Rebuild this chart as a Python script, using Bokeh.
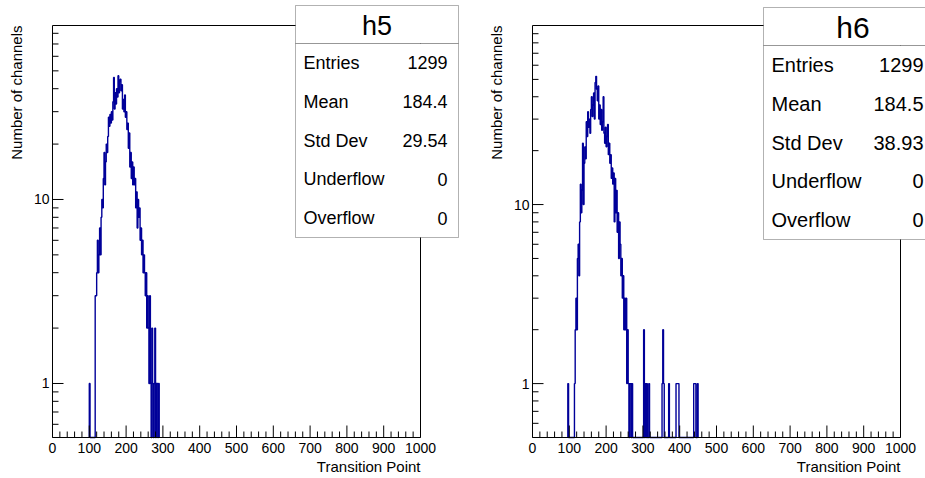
import math
import numpy as np
from bokeh.plotting import figure
from bokeh.layouts import row
from bokeh.models import Label, BoxAnnotation, Range1d
from bokeh.core.properties import value
from bokeh.embed import file_html
from bokeh.resources import INLINE

# ---------------- data ----------------
BIN_WIDTH = 2

h5_start = 100
h5_counts = [1, 0, 0, 0, 0, 0, 0, 0, 3, 3, 4, 6, 4, 5, 7, 5, 8, 10, 9, 13,
             18, 12, 16, 20, 18, 22, 28, 25, 29, 26, 30, 27, 34, 46, 31, 38, 33, 40, 36, 47,
             38, 44, 45, 39, 42, 31, 35, 30, 37, 28, 30, 24, 26, 19, 23, 15, 18, 13, 16, 12,
             15, 12, 13, 9, 11, 7, 10, 8, 9, 6, 7, 5, 6, 4, 5, 4, 3, 4, 2, 3,
             2, 1, 3, 1, 0, 2, 1, 0, 1, 2, 0, 1, 1, 0, 1]

h6_start = 96
h6_counts = [1, 0, 0, 0, 0, 0, 0, 0, 0, 1, 2, 3, 2, 5, 6, 4, 8, 13, 9, 12,
             22, 10, 17, 21, 18, 29, 24, 33, 27, 30, 25, 34, 40, 31, 36, 42, 30, 48, 52, 44,
             38, 46, 30, 36, 28, 34, 26, 29, 40, 25, 22, 27, 21, 24, 28, 19, 22, 17, 19, 14,
             16, 13, 15, 8, 14, 9, 12, 7, 9, 5, 8, 6, 4, 5, 3, 4, 2, 3, 2, 3,
             1, 2, 1, 0, 1, 1, 0, 1]
h6_tail_edges = [302, 306, 310, 316, 352, 354, 356, 370, 390, 392, 394, 396, 438, 440, 442, 448]
h6_tail_counts = [2, 1, 1, 1, 1, 2, 1, 1, 1, 1, 1, 1, 1, 1, 1, 1]

x_ticks = list(range(0, 1001, 100))
x_tick_labels = [str(v) for v in x_ticks]
x_minor = [v for v in range(0, 1001, 20) if v % 100]
y_ticks = [1, 10]
y_tick_labels = ["1", "10"]
y_minor = [0.5, 0.6, 0.7, 0.8, 0.9, 2, 3, 4, 5, 6, 7, 8, 9, 20, 30, 40, 50, 60, 70, 80, 90]

stat_names = ["Entries", "Mean", "Std Dev", "Underflow", "Overflow"]
h5_stats = ["1299", "184.4", "29.54", "0", "0"]
h6_stats = ["1299", "184.5", "38.93", "0", "0"]

x_title = "Transition Point"
y_title = "Number of channels"

# ---------------- style / layout ----------------
FONT = "Liberation Sans"
HIST_COLOR = "#000099"
H = 478
FR_TOP, FR_BOT = 25, 437


def dense_counts(start, counts, extra_edges=(), extra_counts=()):
    edges = [start + i * BIN_WIDTH for i in range(len(counts))] + list(extra_edges)
    vals = list(counts) + list(extra_counts)
    first = min(edges)
    last = max(edges)
    n = int(round((last - first) / BIN_WIDTH)) + 1
    dense = np.zeros(n)
    for e, c in zip(edges, vals):
        dense[int(round((e - first) / BIN_WIDTH))] += c
    return first, dense


def step_path(first, dense, floor):
    xs = [first]
    ys = [floor]
    for i, c in enumerate(dense):
        lo = first + i * BIN_WIDTH
        hi = lo + BIN_WIDTH
        v = c if c > 0 else floor
        xs += [lo, hi]
        ys += [v, v]
    xs.append(first + len(dense) * BIN_WIDTH)
    ys.append(floor)
    return xs, ys


def make_panel(name, first, dense, stats, y_lo, y_hi, fig_left, fig_w,
               frame_left, frame_right, box, title_size, text_size):
    xpp = 1000.0 / (frame_right - frame_left)
    kpp = (math.log10(y_hi) - math.log10(y_lo)) / (FR_BOT - FR_TOP)

    def X(px):
        return (px - frame_left) * xpp

    def Y(py):
        return 10 ** (math.log10(y_lo) - (py - FR_BOT) * kpp)

    p = figure(width=fig_w, height=H,
               x_range=Range1d(X(fig_left), X(fig_left + fig_w)),
               y_range=Range1d(Y(H), Y(0)),
               y_axis_type="log", x_axis_location=None, y_axis_location=None,
               output_backend="svg", toolbar_location=None, min_border=0)
    p.grid.visible = False
    p.outline_line_color = None
    p.background_fill_color = "white"
    p.border_fill_color = "white"

    # histogram outline
    xs, ys = step_path(first, dense, y_lo)
    p.line(xs, ys, line_color=HIST_COLOR, line_width=1.4)

    # frame box
    p.line([0, 1000, 1000, 0, 0], [y_lo, y_lo, y_hi, y_hi, y_lo], line_color="black", line_width=1)

    # x ticks (inside)
    n = len(x_ticks)
    p.segment(x0=x_ticks, y0=[y_lo] * n, x1=x_ticks, y1=[Y(FR_BOT - 12)] * n,
              line_color="black", line_width=1)
    m = len(x_minor)
    p.segment(x0=x_minor, y0=[y_lo] * m, x1=x_minor, y1=[Y(FR_BOT - 6)] * m,
              line_color="black", line_width=1)
    # y ticks (inside)
    yt = [t for t in y_ticks if y_lo <= t <= y_hi]
    p.segment(x0=[0] * len(yt), y0=yt, x1=[11 * xpp] * len(yt), y1=yt,
              line_color="black", line_width=1)
    ym = [t for t in y_minor if y_lo < t < y_hi]
    p.segment(x0=[0] * len(ym), y0=ym, x1=[6 * xpp] * len(ym), y1=ym,
              line_color="black", line_width=1)

    # tick labels
    p.text(x=x_ticks, y=[y_lo] * n, text=x_tick_labels, y_offset=5,
           text_align="center", text_baseline="top",
           text_font=value(FONT), text_font_size="14px", text_color="black")
    p.text(x=[0] * len(y_ticks), y=y_ticks, text=y_tick_labels, x_offset=-3,
           text_align="right", text_baseline="middle",
           text_font=value(FONT), text_font_size="14px", text_color="black")

    # axis titles (ROOT style: right / top aligned)
    p.add_layout(Label(x=1000, y=Y(466), text=x_title, text_align="right",
                       text_baseline="middle", text_font=FONT,
                       text_font_size="15px", text_color="black"))
    p.add_layout(Label(x=X(fig_left + 16), y=y_hi, text=y_title, angle=90,
                       angle_units="deg", text_align="right", text_baseline="alphabetic",
                       text_font=FONT, text_font_size="15px", text_color="black"))

    # stat box
    bl, br, bt, bs, bb, lab_x, val_x = box
    for top, bottom in ((bt, bs), (bs, bb)):
        p.add_layout(BoxAnnotation(left=X(bl), right=X(br), top=Y(top), bottom=Y(bottom),
                                   fill_color="white", fill_alpha=1.0,
                                   line_color="black", line_width=1, level="annotation"))
    p.add_layout(Label(x=X((bl + br) / 2), y=Y((bt + bs) / 2 + 1), text=name,
                       text_align="center", text_baseline="middle",
                       text_font=FONT, text_font_size=title_size, text_color="black",
                       level="annotation"))
    row_h = (bb - bs) / len(stat_names)
    for i, (nm, vl) in enumerate(zip(stat_names, stats)):
        yy = Y(bs + (i + 0.5) * row_h)
        p.add_layout(Label(x=X(lab_x), y=yy, text=nm, text_align="left",
                           text_baseline="middle", text_font=FONT,
                           text_font_size=text_size, text_color="black", level="annotation"))
        p.add_layout(Label(x=X(val_x), y=yy, text=vl, text_align="right",
                           text_baseline="middle", text_font=FONT,
                           text_font_size=text_size, text_color="black", level="annotation"))
    return p


f5, d5 = dense_counts(h5_start, h5_counts)
f6, d6 = dense_counts(h6_start, h6_counts, h6_tail_edges, h6_tail_counts)

p1 = make_panel("h5", f5, d5, h5_stats, 0.5087, 88.2, 0, 480, 52, 420,
                (295, 458, 5, 43, 237, 303, 447), "27px", "18px")
p2 = make_panel("h6", f6, d6, h6_stats, 0.5, 100.0, 480, 445, 532, 900,
                (763, 942, 7, 45, 239, 771, 923), "30px", "20px")

layout = row(p1, p2)
open("out.html", "w").write(file_html(layout, INLINE))
